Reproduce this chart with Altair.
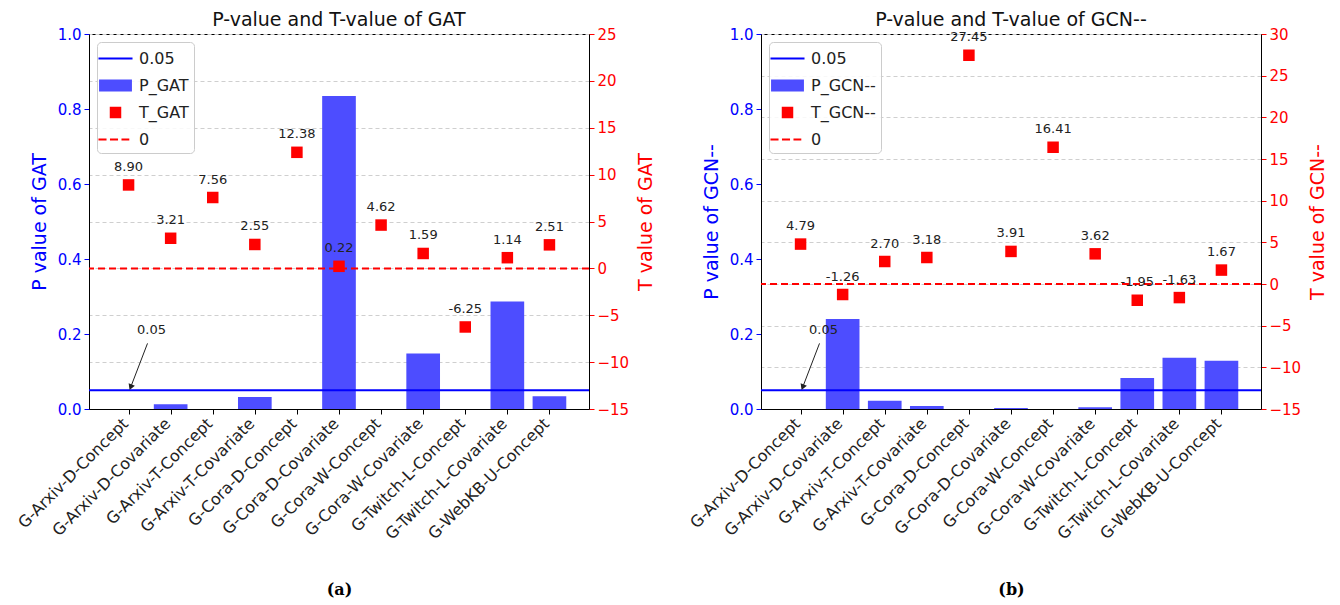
import altair as alt
import pandas as pd

# ---------------- data ----------------
categories = [
    "G-Arxiv-D-Concept", "G-Arxiv-D-Covariate", "G-Arxiv-T-Concept",
    "G-Arxiv-T-Covariate", "G-Cora-D-Concept", "G-Cora-D-Covariate",
    "G-Cora-W-Concept", "G-Cora-W-Covariate", "G-Twitch-L-Concept",
    "G-Twitch-L-Covariate", "G-WebKB-U-Concept",
]
p_gat = [0.0, 0.013, 0.0, 0.032, 0.0, 0.835, 0.0, 0.148, 0.0, 0.287, 0.034]
t_gat = [8.90, 3.21, 7.56, 2.55, 12.38, 0.22, 4.62, 1.59, -6.25, 1.14, 2.51]
p_gcn = [0.0, 0.240, 0.022, 0.008, 0.0, 0.003, 0.0, 0.005, 0.083, 0.137, 0.129]
t_gcn = [4.79, -1.26, 2.70, 3.18, 27.45, 3.91, 16.41, 3.62, -1.95, -1.63, 1.67]

x_ticks = list(range(len(categories)))
p_ticks = [0.0, 0.2, 0.4, 0.6, 0.8, 1.0]
t_ticks_gat = [-15, -10, -5, 0, 5, 10, 15, 20, 25]
t_ticks_gcn = [-15, -10, -5, 0, 5, 10, 15, 20, 25, 30]
threshold = [0.05]
zero_t = [0]
annot_text = ["0.05"]
annot_xy_text = [0.2, 0.2]      # text position (category index, p)
arrow_tail = [0.45, 0.175]
arrow_head = [0.05, 0.058]

FONT = "DejaVu Sans"
BLUE = "#0000ff"
RED = "#ff0000"
BAR = "#4d4dff"

W, H = 500, 375
X_DOMAIN = [-0.94, len(categories) - 1 + 0.94]

legend_paths = {
    "line": "M-1.48,-0.09H1.48V0.09H-1.48Z",
    "bar": "M-1.43,-0.52H1.43V0.52H-1.43Z",
    "square": "M-0.5,-0.5H0.5V0.5H-0.5Z",
    "dash": ("M-1.48,-0.09H-0.78V0.09H-1.48Z"
             "M-0.48,-0.09H0.22V0.09H-0.48Z"
             "M0.52,-0.09H1.2V0.09H0.52Z"),
}


def panel(model, p_vals, t_vals, t_domain, t_ticks, caption):
    df = pd.DataFrame({
        "idx": x_ticks,
        "p": p_vals,
        "t": t_vals,
        "label": [f"{v:.2f}" for v in t_vals],
        "series": [f"T_{model}"] * len(categories),
    })
    base = alt.Chart(df)

    label_expr = "[" + ",".join(f"'{c}'" for c in categories) + "][datum.value]"
    xscale = alt.Scale(domain=X_DOMAIN, nice=False, zero=False)
    xaxis = alt.Axis(
        values=x_ticks, labelExpr=label_expr, labelAngle=-45,
        labelAlign="right", labelBaseline="top", labelFontSize=16,
        labelFont=FONT, labelColor="#222222", labelPadding=1, labelOffset=-9,
        labelOverlap=False, labelBound=False, labelFlush=False,
        tickColor="black", domainColor="black", grid=False,
        title=caption, titleFont="DejaVu Serif", titleFontWeight="bold",
        titleFontSize=16, titleColor="black", titlePadding=39,
    )
    pscale = alt.Scale(domain=[0, 1], nice=False, zero=False)
    paxis = alt.Axis(
        values=p_ticks, format=".1f", orient="left", grid=False,
        labelColor=BLUE, labelFontSize=15, labelFont=FONT, labelPadding=3,
        tickColor=BLUE, domainColor="black",
        title=f"P value of {model}", titleColor=BLUE, titleFontSize=19,
        titleFont=FONT, titleFontWeight="normal", titlePadding=8,
    )
    tscale = alt.Scale(domain=t_domain, nice=False, zero=False)
    taxis = alt.Axis(
        values=t_ticks, orient="right", grid=True, gridColor="#cfcfcf",
        gridDash=[4, 3], gridWidth=1,
        labelColor=RED, labelFontSize=15, labelFont=FONT, labelPadding=3,
        tickColor=RED, domainColor="black",
        title=f"T value of {model}", titleColor=RED, titleFontSize=19,
        titleFont=FONT, titleFontWeight="normal", titlePadding=8,
        titleAngle=270, titleBaseline="top",
    )

    bars = base.transform_calculate(
        x0="datum.idx - 0.4", x1="datum.idx + 0.4"
    ).mark_bar(color=BAR).encode(
        x=alt.X("x0:Q", scale=xscale, axis=xaxis),
        x2="x1:Q",
        y=alt.Y("p:Q", scale=pscale, axis=paxis),
        y2=alt.datum(0),
    )
    thr = alt.Chart(pd.DataFrame({"p": threshold})).mark_rule(
        color=BLUE, strokeWidth=2
    ).encode(y=alt.Y("p:Q", scale=pscale, axis=paxis))

    ann_df = pd.DataFrame({
        "tx": [annot_xy_text[0]], "ty": [annot_xy_text[1]], "text": annot_text,
        "ax": [arrow_tail[0]], "ay": [arrow_tail[1]],
        "hx": [arrow_head[0]], "hy": [arrow_head[1]],
    })
    ann_base = alt.Chart(ann_df)
    ann_text = ann_base.mark_text(
        align="left", baseline="alphabetic", fontSize=13, font=FONT, color="#222222"
    ).encode(
        x=alt.X("tx:Q", scale=xscale, axis=xaxis),
        y=alt.Y("ty:Q", scale=pscale, axis=paxis),
        text="text:N",
    )
    ann_line = ann_base.mark_rule(color="#222222", strokeWidth=1).encode(
        x=alt.X("ax:Q", scale=xscale, axis=xaxis),
        y=alt.Y("ay:Q", scale=pscale, axis=paxis),
        x2="hx:Q", y2="hy:Q",
    )
    ann_head = ann_base.mark_point(
        shape="triangle-down", filled=True, size=45, angle=21.6,
        color="#222222", opacity=1
    ).encode(
        x=alt.X("hx:Q", scale=xscale, axis=xaxis),
        y=alt.Y("hy:Q", scale=pscale, axis=paxis),
    )
    title = alt.Chart(pd.DataFrame({"title": [f"P-value and T-value of {model}"]})).mark_text(
        fontSize=19, font=FONT, color="#111111", align="center", baseline="middle"
    ).encode(x=alt.value(W / 2), y=alt.value(-14), text="title:N")

    p_layer = alt.layer(bars, thr, ann_line, ann_head, ann_text, title)

    legend_domain = ["0.05", f"P_{model}", f"T_{model}", "0"]
    legend = alt.Legend(
        title=None, orient="top-left", offset=8, padding=5,
        fillColor="rgba(255,255,255,0.85)", strokeColor="#cccccc",
        cornerRadius=4, symbolSize=529, symbolStrokeWidth=0,
        symbolOffset=2, labelOffset=12, rowPadding=7,
        labelExpr="datum.label + '\u00a0\u00a0'",
        labelFontSize=16, labelFont=FONT, labelColor="#222222",
    )
    zero = alt.Chart(pd.DataFrame({"t": zero_t})).mark_rule(
        color=RED, strokeWidth=2, strokeDash=[7, 4]
    ).encode(y=alt.Y("t:Q", scale=tscale, axis=taxis))
    pts = base.mark_point(filled=True, opacity=1, size=529).encode(
        x=alt.X("idx:Q", scale=xscale, axis=xaxis),
        y=alt.Y("t:Q", scale=tscale, axis=taxis),
        color=alt.Color("series:N", scale=alt.Scale(
            domain=legend_domain, range=[BLUE, BAR, RED, RED]), legend=legend),
        shape=alt.Shape("series:N", scale=alt.Scale(
            domain=legend_domain,
            range=[legend_paths["line"], legend_paths["bar"],
                   legend_paths["square"], legend_paths["dash"]]),
            legend=legend),
    )
    labels = base.mark_text(
        dy=-14, baseline="alphabetic", fontSize=13, font=FONT, color="#222222"
    ).encode(
        x=alt.X("idx:Q", scale=xscale, axis=xaxis),
        y=alt.Y("t:Q", scale=tscale, axis=taxis),
        text="label:N",
    )
    t_layer = alt.layer(zero, pts, labels)

    return alt.layer(p_layer, t_layer).resolve_scale(y="independent").properties(
        width=W, height=H,
    )


left = panel("GAT", p_gat, t_gat, [-15, 25], t_ticks_gat, "(a)")
right = panel("GCN--", p_gcn, t_gcn, [-15, 30], t_ticks_gcn, "(b)")

chart = alt.hconcat(left, right, spacing=29).resolve_scale(
    color="independent", shape="independent"
).resolve_legend(color="independent", shape="independent").properties(
    padding={"left": 6, "top": 2, "right": 0, "bottom": 2}
).configure_view(stroke="black", strokeWidth=1).configure_axis(
    tickSize=5, domainWidth=1, tickWidth=1
)

chart.save("out.html", embed_options={"renderer": "svg", "actions": False})
